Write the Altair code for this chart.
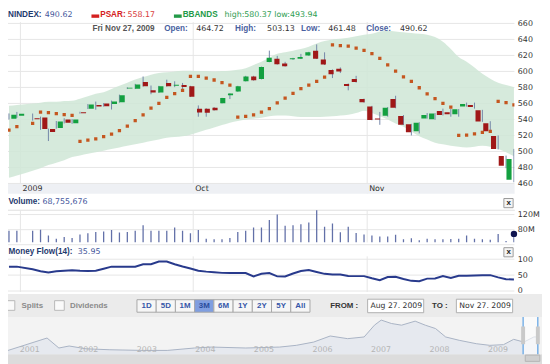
import altair as alt
import pandas as pd

FONT = "DejaVu Sans"
BOLD_FONT = "Liberation Sans"

# ---------------- data ----------------
day = [0, 1, 3, 4, 5, 6, 7, 8, 9, 10, 11, 12, 13, 14, 15, 16, 17, 18, 19, 20, 21, 22,
       23, 24, 25, 26, 27, 28, 29, 30, 31, 32, 33, 34, 35, 36, 37, 38, 39, 40, 41, 42,
       43, 44, 45, 46, 47, 48, 49, 50, 51, 52, 53, 54, 55, 56, 57, 58, 59, 60, 61, 62, 63, 64]
open_px = [541, 544.5, 541.5, 542.5, 528, 529.2, 540, 535.3, 549, 553.4, 558.2, 560, 559.4, 561.5,
           578.6, 578.4, 586.8, 576.4, 573.6, 585.6, 582.2, 582.9, 581.6, 553.4, 553.4, 554.6, 560.3,
           570.3, 574.8, 587.7, 593.7, 590.5, 611.9, 615.8, 609.8, 615.2, 615.8, 619.9, 625.9, 615,
           601.7, 603.4, 584.4, 590.5, 565.5, 556.3, 541.2, 544.6, 565.5, 544.2, 534, 525.2, 541.3,
           540.1, 550.6, 549, 546.6, 556.3, 558.2, 551.4, 535.3, 519.2, 494.2, 464.72]
close_px = [546, 547, 540.2, 528, 524.4, 537.3, 536, 540, 547.8, 558.7, 556.3, 556.6, 562.3, 570.3,
            579.6, 583.6, 581.6, 573.6, 581.6, 581.6, 583.4, 580.4, 568.4, 548.6, 548.4, 551.4, 566.7,
            572.3, 581.6, 593.7, 588.9, 605.5, 617, 609, 606.6, 616.6, 617.9, 623.9, 615.8, 608.6,
            596.5, 599.8, 581.7, 586.8, 561.5, 539.4, 539.8, 554.6, 554.6, 533.3, 524, 536, 545.4,
            547.4, 545.4, 546.6, 552.7, 559.4, 555.4, 537.3, 525.2, 503.1, 482.1, 490.62]
high_px = [547.5, 549.4, 547.4, 543.5, 528.5, 538, 541.5, 540.5, 549.6, 559.2, 562.3, 560.5, 563.5,
           571, 580.2, 584.5, 593.7, 582.4, 582, 589.7, 587.7, 585.6, 582, 557.5, 554, 555.5, 567,
           572.6, 582, 594.5, 594.5, 606, 626, 619.5, 612, 617, 621.9, 624.5, 633.8, 623.9, 602.5,
           605, 585, 594.5, 566, 557, 549.4, 555.5, 569.6, 545.5, 534.5, 536.5, 548, 548, 553.5, 553,
           553, 561, 561, 552, 537.8, 520, 494.8, 503.13]
low_px = [540, 542, 538.5, 527, 513, 528.5, 535, 534.5, 547.2, 553, 552.2, 556, 552.4, 561, 578,
          578, 581, 571.5, 573, 581, 580.4, 575.6, 568, 543.4, 543.4, 551, 560, 565.5, 574.5, 587.5,
          588.5, 590, 611.5, 608.5, 606, 614.5, 615.5, 619.5, 615.5, 608, 591.7, 598, 576.4, 586,
          561, 539, 533.3, 543.5, 554, 533, 520, 522.5, 541, 539.5, 545, 543.4, 543.4, 556, 553.5,
          537, 523.4, 502.5, 479, 461.48]
psar = [526.5, 531, 535, 549, 548.6, 547.4, 546, 545, 512.7, 514, 515.6, 518.4, 521.6, 526, 531.7,
        538.5, 545.8, 554, 560, 567.5, 572.3, 576.4, 593.7, 593.7, 591.7, 589.3, 586, 582.8, 543,
        543.8, 545.8, 549, 553.4, 560.7, 566.7, 572.7, 578.4, 582.8, 587.7, 592.9, 633.1, 632.4,
        631.5, 629, 626.3, 622.3, 616.2, 608.2, 600.5, 593.3, 587.7, 579.6, 572, 566, 560, 555.4,
        520, 520.4, 522, 523.7, 525.2, 562.7, 561, 558.17]
bb_high = [557, 558, 560, 561, 562, 562, 563, 563.5, 566, 569, 572, 574, 578, 582, 586, 590, 593,
           596, 598, 599, 600, 601, 601, 600.5, 600.5, 600, 600.5, 601, 602, 604, 608, 612, 617, 622,
           624, 626, 628, 631, 635, 638, 640, 641, 642, 644, 646, 647, 650, 651, 650, 649, 648, 647,
           646, 643, 637, 628, 618, 612, 605, 597, 591, 586, 583, 580.37]
bb_low = [467, 470, 476, 479, 483, 486, 489, 493, 495, 497, 499, 501, 503, 505, 507, 509, 511, 513,
          515, 517, 518, 519, 521, 524, 527, 530, 533, 536, 538, 540, 541, 542, 544, 545, 545, 544,
          543, 543, 543, 543.5, 544, 545, 546, 548, 551, 548, 544, 540, 535, 531, 525, 519, 515,
          511, 509, 507, 506, 505, 506, 507, 506, 503, 499, 493.94]
volume_m = [77.4, 77.4, 77.4, 80, 64.6, 55.9, 60.3, 57.7, 67.2, 70.5, 73.8, 74.9, 79, 72.3, 73.8,
            77.4, 91.8, 77.4, 77.4, 77.4, 85.9, 77.4, 70.5, 79, 55.9, 54.2, 54.2, 57.7, 73.8, 77.4,
            85.9, 85.9, 105.6, 120, 90.3, 91.8, 94.4, 98.7, 131.3, 87.7, 96.2, 73.1, 87.7, 71.3,
            67.2, 64.6, 62, 62, 66.4, 54.5, 57.1, 52, 55.9, 54.2, 54.2, 55, 55.9, 64.6, 55.9, 54.2,
            53.4, 68.7, 50, 68.755676]
money_flow = [76.6, 76.6, 68.5, 62, 58.5, 62, 64, 65, 63.5, 63, 63.8, 70, 76.6, 76.6, 76.6, 76.6,
              84, 84, 92.6, 92.6, 84, 77, 71, 64, 61, 59, 57, 56.4, 56.4, 56.4, 46, 54, 56.4, 46,
              45.7, 55, 63, 66, 60, 54, 52, 52, 47, 46.8, 46.8, 40, 34, 44, 45, 38, 32, 31, 39,
              39.4, 47, 41, 47.9, 47.9, 48.5, 49.3, 50, 43, 37.2, 35.95]

price_ticks = [460, 480, 500, 520, 540, 560, 580, 600, 620, 640, 660]
volume_ticks = [40, 80, 120]
flow_ticks = [0, 50, 100]
month_breaks = [1.45, 23.35, 45.4]
month_labels = ["2009", "Oct", "Nov"]

nav_year = [2000.849, 2001.516, 2001.718, 2001.894, 2002.182, 2002.590, 2003.171, 2003.569,
            2004.033, 2004.332, 2004.912, 2005.493, 2005.775, 2006.073, 2006.355, 2006.653,
            2006.935, 2007.111, 2007.227, 2007.400, 2007.575, 2007.807, 2007.980, 2008.156,
            2008.328, 2008.560, 2008.851, 2009.083, 2009.317, 2009.491, 2009.665, 2009.836, 2009.919]
nav_level = [116, 464, 184, 240, 162, 135, 116, 116, 184, 211, 184, 211, 259, 351, 521, 446, 494,
             824, 967, 872, 824, 937, 824, 729, 494, 400, 305, 259, 278, 427, 351, 494, 494]
nav_ticks = [2001, 2002, 2003, 2004, 2005, 2006, 2007, 2008, 2009]
nav_window = [2009.652, 2009.904]  # Aug 27 2009 .. Nov 27 2009
range_buttons = ["1D", "5D", "1M", "3M", "6M", "1Y", "2Y", "5Y", "All"]

# ---------------- layout helpers ----------------
W, H = 514, 356


def fx(r):
    return round(r * 0.985, 1)


def fy(r):
    return round(r * 0.978, 1)


one = pd.DataFrame({"k": [0]})


def txt(s, rx, ry, color, bold=False, size=None, align="left"):
    if size is None:
        size = 8.3 if bold else 8
    return alt.Chart(one).mark_text(
        align=align, baseline="middle", font=BOLD_FONT if bold else FONT, fontSize=size,
        fontWeight="bold" if bold else "normal", color=color
    ).encode(x=alt.value(fx(rx)), y=alt.value(fy(ry)), text=alt.value(s))


def box(rx1, ry1, rx2, ry2, fill, stroke=None, sw=1.0):
    kw = dict(color=fill)
    if stroke is not None:
        kw.update(stroke=stroke, strokeWidth=sw)
    return alt.Chart(one).mark_rect(**kw).encode(
        x=alt.value(fx(rx1)), x2=alt.value(fx(rx2)),
        y=alt.value(fy(ry1)), y2=alt.value(fy(ry2)))


df = pd.DataFrame({"i": day, "open": open_px, "close": close_px, "high": high_px, "low": low_px,
                   "psar": psar, "bbu": bb_high, "bbl": bb_low, "vol": volume_m, "mf": money_flow})
df["dir"] = ["up" if c >= o else "down" for o, c in zip(open_px, close_px)]

XP = alt.Scale(domain=[-0.123, 64.06], range=[0, W])
YP = alt.Scale(domain=[460, 660], range=[fy(179.3), fy(13.3)])
YV = alt.Scale(domain=[80, 120], range=[fy(227.3), fy(211.7)])
YM = alt.Scale(domain=[0, 100], range=[fy(291), fy(258)])


def yaxis(values, expr=None):
    kw = dict(orient="right", values=values, grid=False, ticks=False, domain=False, title=None,
              labelFont=FONT, labelFontSize=8, labelColor="#333333", labelPadding=3)
    if expr:
        kw["labelExpr"] = expr
    return alt.Axis(**kw)


GRID = "#e6e6e6"
layers = []

# ---------------- price panel ----------------
layers.append(alt.Chart(pd.DataFrame({"v": price_ticks})).mark_rule(color=GRID).encode(
    y=alt.Y("v:Q", scale=YP, axis=yaxis(price_ticks)), x=alt.value(0), x2=alt.value(W)))
layers.append(alt.Chart(pd.DataFrame({"g": month_breaks})).mark_rule(color=GRID).encode(
    x=alt.X("g:Q", scale=XP, axis=None), y=alt.value(fy(12)), y2=alt.value(fy(190))))
layers.append(alt.Chart(df).mark_area(color="#cfe6d6", opacity=0.85, clip=True,
                                      interpolate="monotone").encode(
    x=alt.X("i:Q", scale=XP, axis=None), y=alt.Y("bbu:Q", scale=YP, axis=None), y2="bbl:Q"))
layers.append(alt.Chart(df).mark_rule(color="#7486a8", strokeWidth=1, clip=True).encode(
    x=alt.X("i:Q", scale=XP, axis=None), y=alt.Y("low:Q", scale=YP, axis=None), y2="high:Q"))
layers.append(alt.Chart(df).mark_bar(size=5.2, clip=True).encode(
    x=alt.X("i:Q", scale=XP, axis=None), y=alt.Y("open:Q", scale=YP, axis=None), y2="close:Q",
    color=alt.Color("dir:N", scale=alt.Scale(domain=["up", "down"], range=["#13a040", "#a01818"]),
                    legend=None)))
layers.append(alt.Chart(df).mark_square(size=11, color="#c4561f", opacity=1, clip=True).encode(
    x=alt.X("i:Q", scale=XP, axis=None), y=alt.Y("psar:Q", scale=YP, axis=None)))

# header texts
layers += [
    txt("NINDEX:", 0, 5, "#1f3a6e", bold=True),
    txt("490.62", 38, 5, "#45579c"),
    box(86, 4, 94, 7.5, "#d42020"),
    txt("PSAR:", 95, 5, "#d42020", bold=True),
    txt("558.17", 123, 5, "#d83a3a"),
    box(171, 4, 179, 7.5, "#239a48"),
    txt("BBANDS", 180, 5, "#239a48", bold=True),
    txt("high:580.37 low:493.94", 223, 5, "#2f9e52"),
    txt("Fri Nov 27, 2009", 87, 19.3, "#555555", bold=True),
    txt("Open:", 161, 19.3, "#4a5fa0", bold=True),
    txt("464.72", 194, 19.3, "#333333"),
    txt("High:", 234, 19.3, "#4a5fa0", bold=True),
    txt("503.13", 267, 19.3, "#333333"),
    txt("Low:", 302, 19.3, "#4a5fa0", bold=True),
    txt("461.48", 330, 19.3, "#333333"),
    txt("Close:", 369, 19.3, "#4a5fa0", bold=True),
    txt("490.62", 404, 19.3, "#333333"),
]

# x-axis band
layers.append(box(0, 180, 522, 190, "#eef0f4"))
layers.append(alt.Chart(pd.DataFrame({"g": month_breaks, "t": month_labels})).mark_text(
    align="left", baseline="middle", dx=2, font=FONT, fontSize=8, color="#333333").encode(
    x=alt.X("g:Q", scale=XP, axis=None), y=alt.value(fy(185.5)), text="t:N"))

# ---------------- volume panel ----------------
layers.append(txt("Volume:", 0.5, 199, "#1f3a6e", bold=True))
layers.append(txt("68,755,676", 35.5, 199, "#45579c"))
layers.append(box(511, 195, 520.5, 204.5, "#f4f4f4", stroke="#9a9a9a"))
layers.append(txt("x", 515.8, 199.5, "#222222", bold=True, size=8, align="center"))
layers.append(alt.Chart(pd.DataFrame({"v": volume_ticks})).mark_rule(color=GRID).encode(
    y=alt.Y("v:Q", scale=YV, axis=yaxis(volume_ticks, "datum.value + 'M'")),
    x=alt.value(0), x2=alt.value(W)))
layers.append(box(0, 207.3, 522, 207.3, "#ffffff", stroke=GRID))
layers.append(alt.Chart(pd.DataFrame({"g": month_breaks})).mark_rule(color=GRID).encode(
    x=alt.X("g:Q", scale=XP, axis=None), y=alt.value(fy(207)), y2=alt.value(fy(240.5))))
layers.append(alt.Chart(df).mark_rule(color="#6270a8", strokeWidth=1.3, clip=True).encode(
    x=alt.X("i:Q", scale=XP, axis=None), y=alt.Y("vol:Q", scale=YV, axis=None),
    y2=alt.value(fy(240.5))))
layers.append(alt.Chart(df.tail(1)).mark_circle(size=42, color="#0f1450", opacity=1).encode(
    x=alt.X("i:Q", scale=XP, axis=None), y=alt.Y("vol:Q", scale=YV, axis=None)))

# ---------------- money flow panel ----------------
layers.append(txt("Money Flow(14):", 0.5, 250.5, "#1f3a6e", bold=True))
layers.append(txt("35.95", 72, 250.5, "#45579c"))
layers.append(box(511, 246, 520.5, 255.5, "#f4f4f4", stroke="#9a9a9a"))
layers.append(txt("x", 515.8, 250.8, "#222222", bold=True, size=8, align="center"))
layers.append(alt.Chart(pd.DataFrame({"v": flow_ticks})).mark_rule(color=GRID).encode(
    y=alt.Y("v:Q", scale=YM, axis=yaxis(flow_ticks)), x=alt.value(0), x2=alt.value(W)))
layers.append(alt.Chart(pd.DataFrame({"g": month_breaks})).mark_rule(color=GRID).encode(
    x=alt.X("g:Q", scale=XP, axis=None), y=alt.value(fy(255)), y2=alt.value(fy(292))))
layers.append(alt.Chart(df).mark_line(color="#283a8c", strokeWidth=2, clip=True).encode(
    x=alt.X("i:Q", scale=XP, axis=None), y=alt.Y("mf:Q", scale=YM, axis=None)))

# ---------------- bottom controls ----------------
layers.append(box(-2, 294, 560, 372, "#ebebeb"))
layers.append(box(-3, 301, 7, 311, "#fafafa", stroke="#b8b8b8"))
layers.append(txt("Splits", 14, 306.5, "#8a8a8a", bold=True, size=8))
layers.append(box(48, 301, 58, 311, "#fafafa", stroke="#b8b8b8"))
layers.append(txt("Dividends", 64, 306.5, "#8a8a8a", bold=True, size=8))

BX = alt.Scale(domain=range_buttons, range=[fx(132.9), fx(311.2)], paddingInner=0, paddingOuter=0)
btn = pd.DataFrame({"b": range_buttons})
layers.append(alt.Chart(btn).mark_rect(stroke="#a8a8a8", strokeWidth=1).encode(
    x=alt.X("b:N", scale=BX, axis=None), y=alt.value(fy(300)), y2=alt.value(fy(313)),
    color=alt.condition(alt.datum.b == "3M", alt.value("#7f9ee0"), alt.value("#f6f6f6"))))
layers.append(alt.Chart(btn).mark_text(font=BOLD_FONT, fontSize=8, fontWeight="bold",
                                       baseline="middle").encode(
    x=alt.X("b:N", scale=BX, axis=None, bandPosition=0.5), y=alt.value(fy(306.5)), text="b:N",
    color=alt.condition(alt.datum.b == "3M", alt.value("#2a4c9c"), alt.value("#3556a8"))))

layers += [
    txt("FROM :", 332, 306.5, "#333333", bold=True, size=8),
    box(370.6, 299.5, 428.3, 313.5, "#ffffff", stroke="#b0b0b0"),
    txt("Aug 27. 2009", 373.5, 306.5, "#333333", size=7.8),
    txt("TO :", 437, 306.5, "#333333", bold=True, size=8),
    box(462, 299.5, 520, 313.5, "#ffffff", stroke="#b0b0b0"),
    txt("Nov 27. 2009", 465, 306.5, "#333333", size=7.8),
]

# ---------------- navigator ----------------
NX = alt.Scale(domain=[2001, 2009], range=[fx(9.1), fx(491.5)])
NY = alt.Scale(domain=[0, 1080], range=[fy(357), fy(317)])
layers.append(box(-2, 318, 560, 357, "#f3f3f3"))
nav = pd.DataFrame({"t": nav_year, "v": nav_level})
layers.append(alt.Chart(nav).mark_area(color="#dfe4ec", line={"color": "#a9b3c4", "strokeWidth": 1},
                                       interpolate="linear").encode(
    x=alt.X("t:Q", scale=NX, axis=None), y=alt.Y("v:Q", scale=NY, axis=None)))
layers.append(alt.Chart(pd.DataFrame({"t": nav_ticks})).mark_text(
    align="left", baseline="middle", dx=3, font=FONT, fontSize=8, color="#b4b4b4").encode(
    x=alt.X("t:Q", scale=NX, axis=None), y=alt.value(fy(352)), text=alt.Text("t:Q", format="d")))
win = pd.DataFrame({"a": [nav_window[0]], "b": [nav_window[1]]})
layers.append(alt.Chart(win).mark_rect(color="#ffffff", opacity=0.6).encode(
    x=alt.X("a:Q", scale=NX, axis=None), x2="b:Q", y=alt.value(fy(318)), y2=alt.value(fy(357))))
layers.append(alt.Chart(pd.DataFrame({"t": nav_window})).mark_rule(color="#3d8fe0", strokeWidth=1).encode(
    x=alt.X("t:Q", scale=NX, axis=None), y=alt.value(fy(318)), y2=alt.value(fy(357))))
layers.append(alt.Chart(pd.DataFrame({"t": nav_window})).mark_tick(
    color="#c9c9c9", thickness=4, size=18, orient="vertical", opacity=1).encode(
    x=alt.X("t:Q", scale=NX, axis=None), y=alt.value(fy(337))))
layers.append(box(-2, 357, 560, 372, "#dcdcdc"))
layers.append(box(533, 357.5, 548, 364, "#cfcfcf", stroke="#b5b5b5"))

chart = alt.layer(*layers).resolve_scale(
    x="independent", y="independent", color="independent"
).properties(
    width=W, height=H,
    autosize=alt.AutoSizeParams(type="none"),
    padding={"left": 0, "top": 0, "right": 28, "bottom": 0},
).configure_view(stroke=None)

chart.save("out.html", embed_options={"renderer": "svg", "actions": False})
